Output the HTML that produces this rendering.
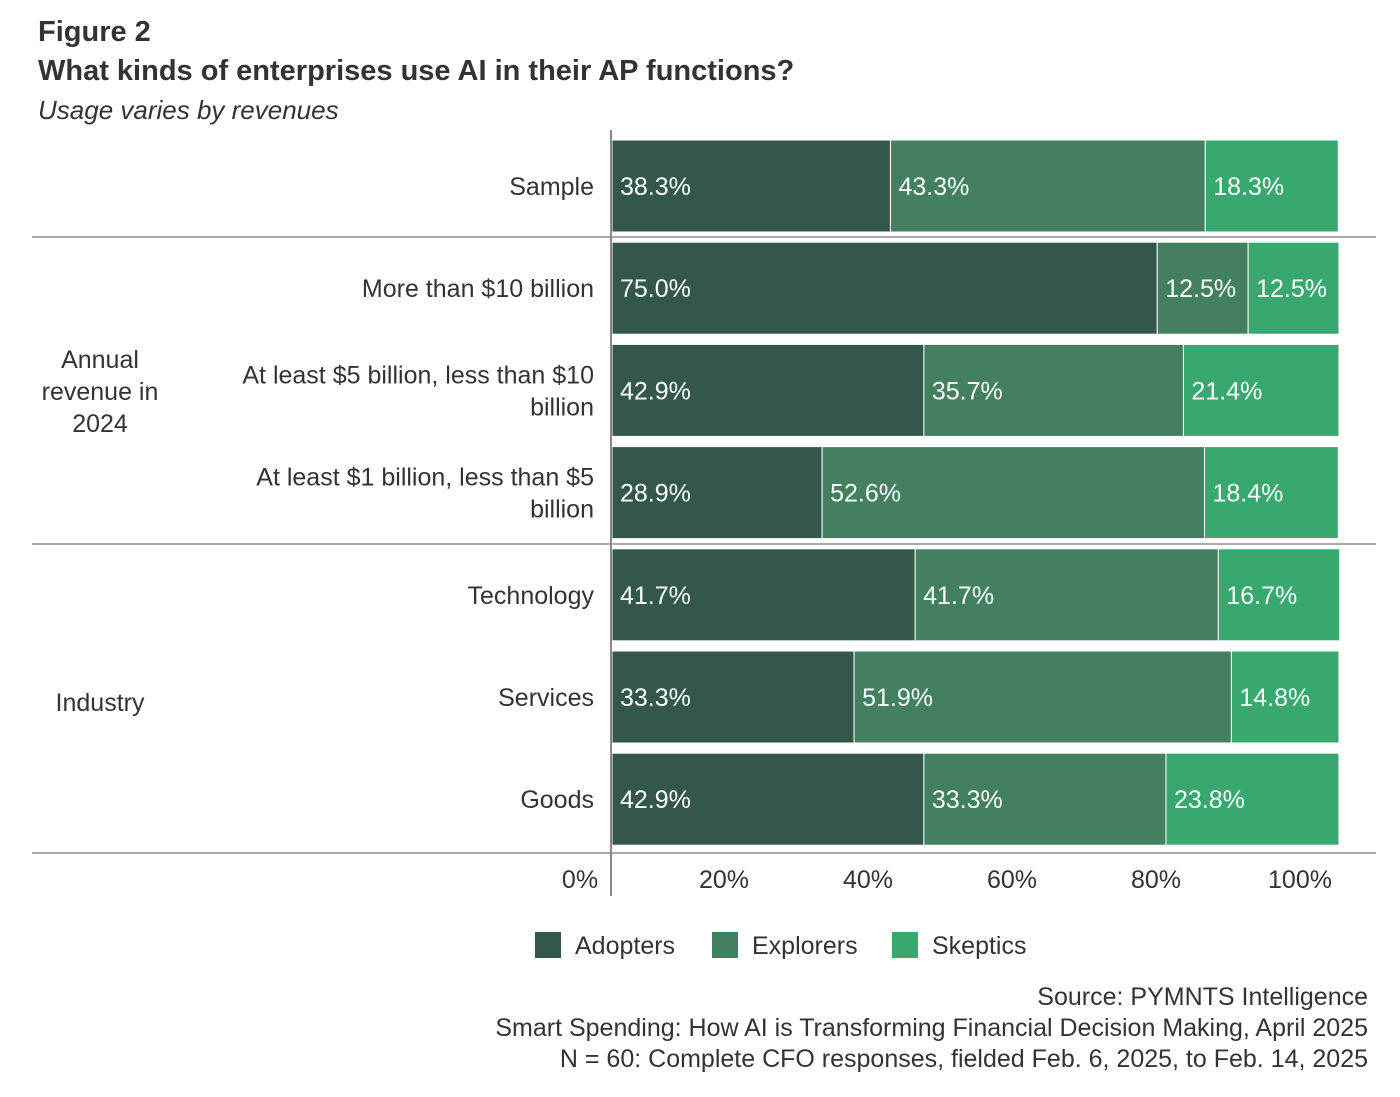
<!DOCTYPE html>
<html><head><meta charset="utf-8"><style>
body{margin:0;background:#fff;width:1400px;height:1097px;overflow:hidden;font-family:"Liberation Sans",sans-serif;color:#333}
.t{position:absolute;white-space:nowrap}
</style></head><body>
<div class="t" style="left:38px;top:16px;font-size:29px;font-weight:bold;color:#333">Figure 2</div>
<div class="t" style="left:38px;top:55px;font-size:29px;font-weight:bold;color:#333">What kinds of enterprises use AI in their AP functions?</div>
<div class="t" style="left:38px;top:95px;font-size:26px;font-style:italic;color:#333">Usage varies by revenues</div>
<svg id="chart" width="1400" height="1097" style="position:absolute;left:0;top:0"></svg>
<div class="t" style="right:32px;top:982px;font-size:25px;text-align:right;line-height:31px">Source: PYMNTS Intelligence<br>Smart Spending: How AI is Transforming Financial Decision Making, April 2025<br>N = 60: Complete CFO responses, fielded Feb. 6, 2025, to Feb. 14, 2025</div>
<script>
const categories=["Sample","More than $10 billion","At least $5 billion, less than $10|billion","At least $1 billion, less than $5|billion","Technology","Services","Goods"];
const adopters=[38.3,75.0,42.9,28.9,41.7,33.3,42.9];
const explorers=[43.3,12.5,35.7,52.6,41.7,51.9,33.3];
const skeptics=[18.3,12.5,21.4,18.4,16.7,14.8,23.8];
const seriesNames=["Adopters","Explorers","Skeptics"];
const colors=["#33574a","#42805f","#38a86e"];
const ticks=[0,20,40,60,80,100];
const NS="http://www.w3.org/2000/svg";
const svg=document.getElementById('chart');
const x0=612,x1=1339;
const xs=v=>x0+(x1-x0)*v/100;
const yTop=i=>140+i*102.2;
const bh=92;
function mk(tag,attrs,txt){const e=document.createElementNS(NS,tag);for(const k in attrs)e.setAttribute(k,attrs[k]);if(txt!=null)e.textContent=txt;svg.appendChild(e);return e;}
const series=[adopters,explorers,skeptics];
categories.forEach((c,i)=>{
  let acc=0;const y=yTop(i);
  series.forEach((s,j)=>{
    const r=mk('rect',{x:xs(acc),y:y,width:xs(acc+s[i])-xs(acc),height:bh,fill:colors[j],stroke:'#fff','stroke-width':1});
    
    
    const t=mk('text',{x:xs(acc)+8,y:y+bh/2+9,fill:'#fff','font-size':25,'font-family':'Liberation Sans'},s[i].toFixed(1)+'%');
    
    
    acc+=s[i];
  });
  const parts=c.split('|');
  parts.forEach((p,k)=>{
    const cy=y+bh/2+9+(k-(parts.length-1)/2)*32;
    const t=mk('text',{x:594,y:cy,'text-anchor':'end',fill:'#333','font-size':25,'font-family':'Liberation Sans'},p);
    
    
  });
});
[237,544,853].forEach(y=>{const l=mk('line',{x1:32,x2:1376,y1:y,y2:y,stroke:'#aaa','stroke-width':2});

});
const ax=mk('line',{x1:611,x2:611,y1:130,y2:896,stroke:'#888','stroke-width':2});


ticks.forEach(v=>{const t=mk('text',{x:580+v*7.2,y:888,'text-anchor':'middle',fill:'#333','font-size':25,'font-family':'Liberation Sans'},v+'%');

});
[["Annual",368],["revenue in",400],["2024",432]].forEach(([s,y])=>{const t=mk('text',{x:100,y:y,'text-anchor':'middle',fill:'#333','font-size':25,'font-family':'Liberation Sans'},s);

});
const g=mk('text',{x:100,y:711,'text-anchor':'middle',fill:'#333','font-size':25,'font-family':'Liberation Sans'},'Industry');


const lx=[535,712,892];
seriesNames.forEach((n,j)=>{
  const r=mk('rect',{x:lx[j],y:932,width:26,height:26,fill:colors[j]});
  
  
  const t=mk('text',{x:lx[j]+40,y:954,fill:'#333','font-size':25,'font-family':'Liberation Sans'},n);
  
  
});
</script>
</body></html>
